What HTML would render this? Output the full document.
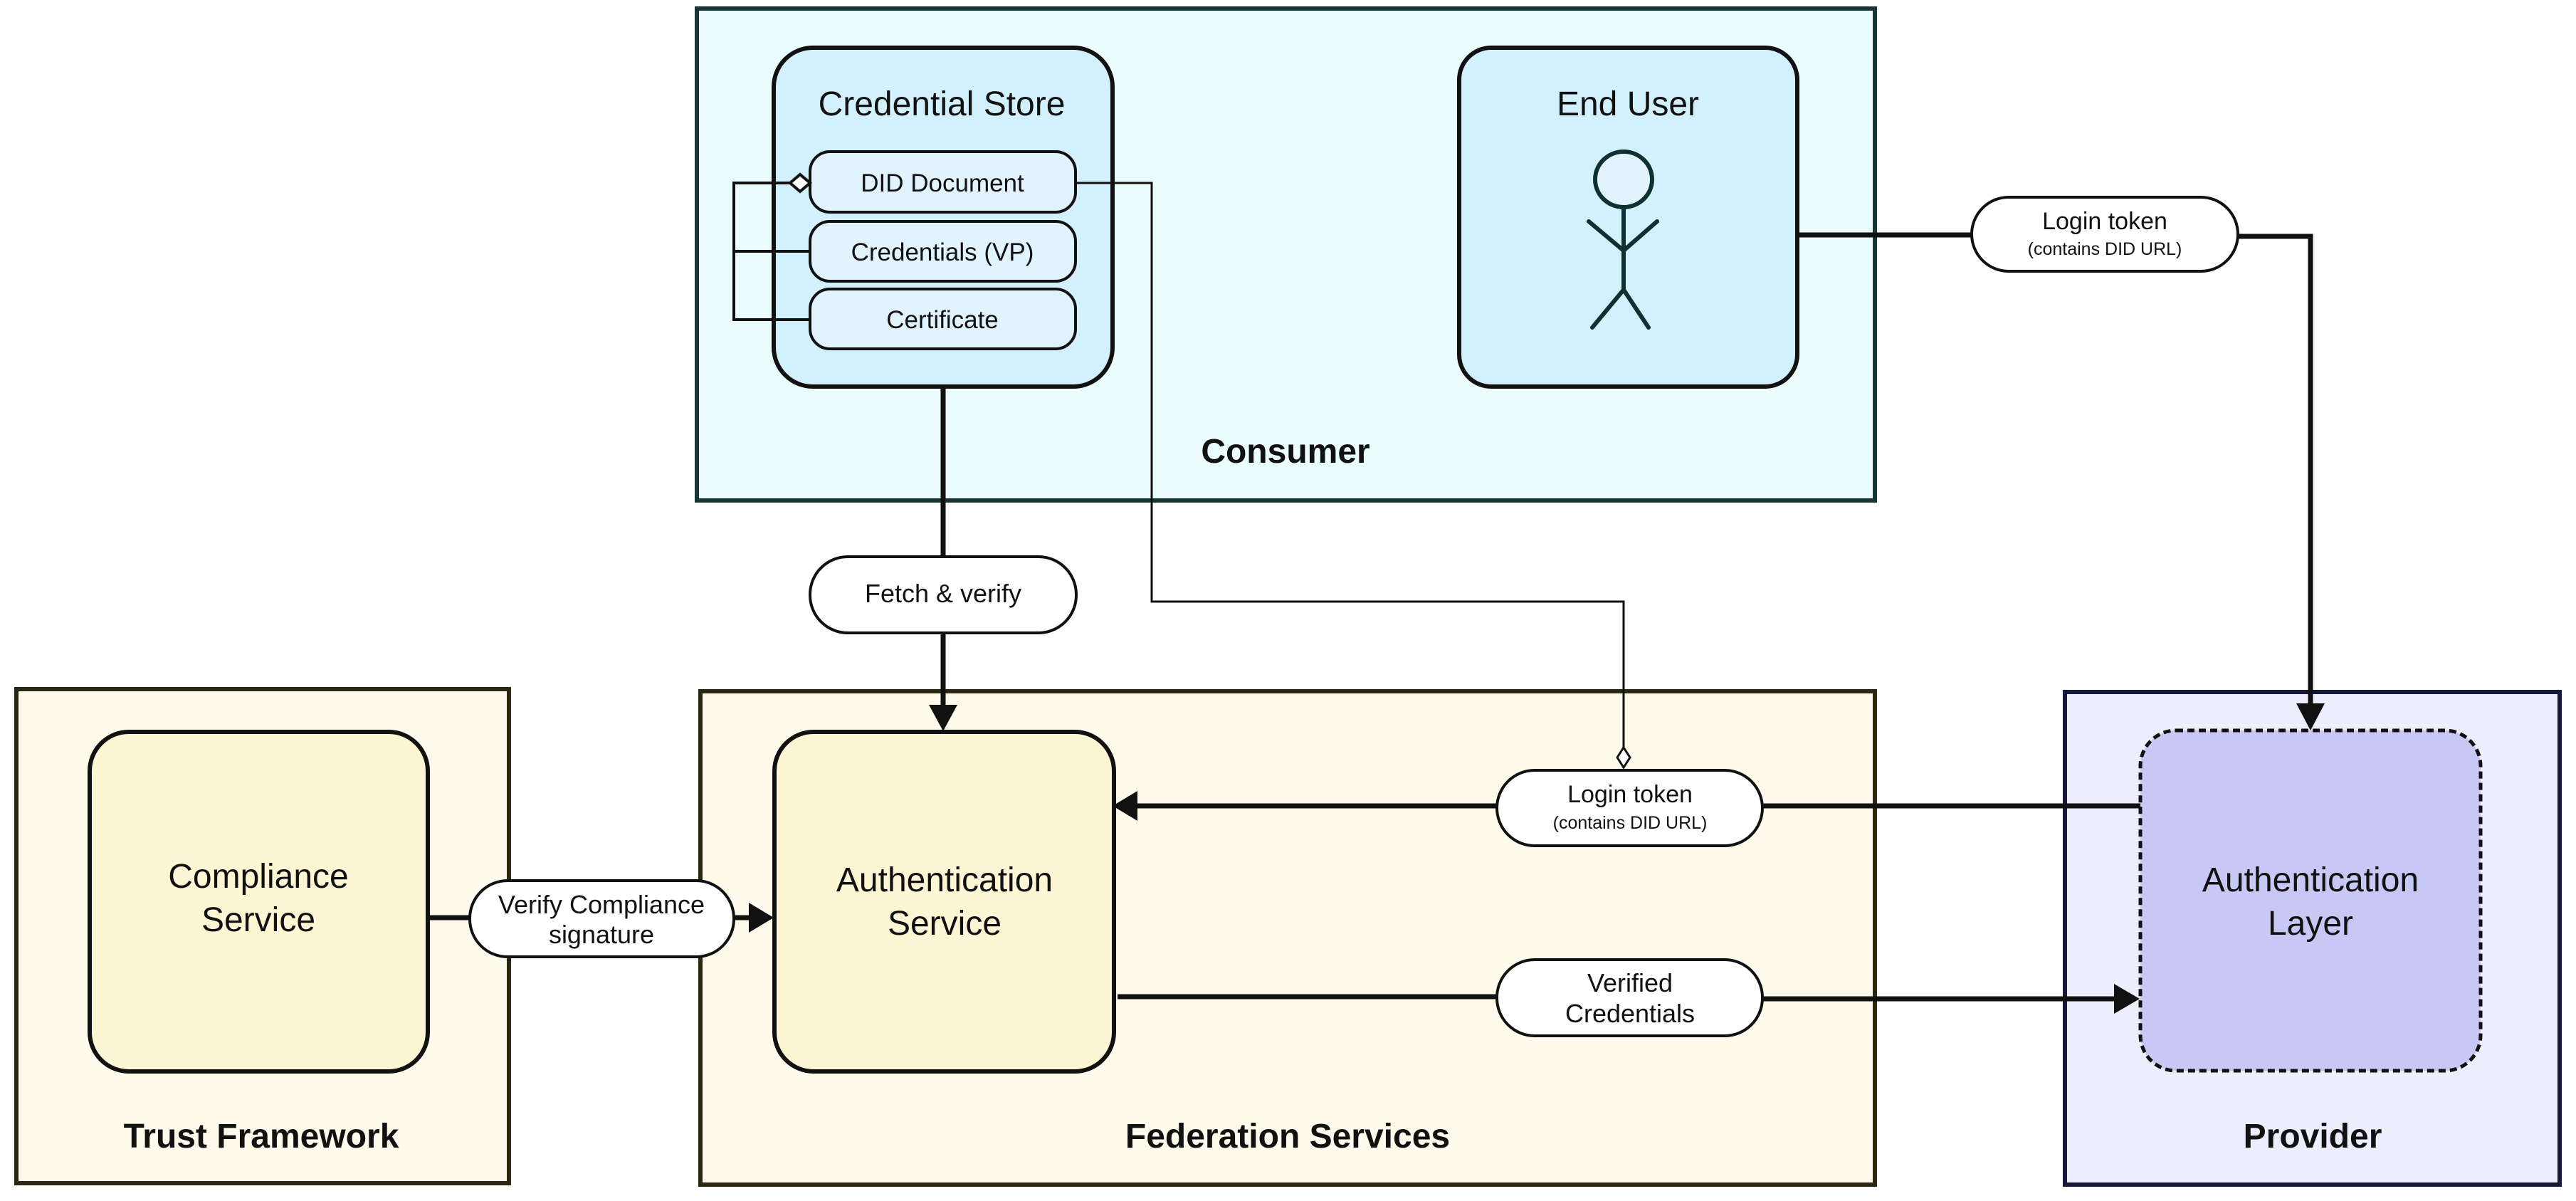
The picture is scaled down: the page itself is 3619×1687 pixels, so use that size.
<!DOCTYPE html>
<html><head><meta charset="utf-8"><style>
html,body{margin:0;padding:0;background:#fff;}
svg{display:block;}
text{font-family:"Liberation Sans",sans-serif;fill:#111;}
</style></head><body>
<svg width="3619" height="1687" viewBox="0 0 3619 1687" xmlns="http://www.w3.org/2000/svg">
<defs>
<marker id="ah" markerWidth="12" markerHeight="12" refX="10" refY="6" orient="auto" markerUnits="userSpaceOnUse" viewBox="0 0 12 12">
</marker>
</defs>
<!-- Group containers -->
<rect x="979" y="12" width="1655" height="691" fill="#ebfcfd" stroke="#173535" stroke-width="6"/>
<rect x="23" y="968" width="692" height="694" fill="#fefaec" stroke="#2a2810" stroke-width="6"/>
<rect x="984" y="971" width="1650" height="693" fill="#fefaec" stroke="#2a2810" stroke-width="6"/>
<rect x="2901" y="972" width="695" height="692" fill="#eceefd" stroke="#15183a" stroke-width="6"/>

<text x="1806" y="650" font-size="48" font-weight="bold" text-anchor="middle">Consumer</text>
<text x="367" y="1612" font-size="48" font-weight="bold" text-anchor="middle">Trust Framework</text>
<text x="1809" y="1612" font-size="48" font-weight="bold" text-anchor="middle">Federation Services</text>
<text x="3249" y="1612" font-size="48" font-weight="bold" text-anchor="middle">Provider</text>

<!-- Credential Store -->
<rect x="1087" y="67" width="476" height="476" rx="55" fill="#d2f0fd" stroke="#111" stroke-width="6"/>
<text x="1323" y="162" font-size="48" text-anchor="middle">Credential Store</text>
<rect x="1138" y="213" width="373" height="85" rx="28" fill="#e1f4fd" stroke="#111" stroke-width="4"/>
<rect x="1138" y="311" width="373" height="84" rx="28" fill="#e1f4fd" stroke="#111" stroke-width="4"/>
<rect x="1138" y="406" width="373" height="84" rx="28" fill="#e1f4fd" stroke="#111" stroke-width="4"/>
<text x="1324" y="269" font-size="35" text-anchor="middle">DID Document</text>
<text x="1324" y="366" font-size="35" text-anchor="middle">Credentials (VP)</text>
<text x="1324" y="461" font-size="35" text-anchor="middle">Certificate</text>
<!-- aggregation bracket -->
<polyline points="1110,257 1031,257 1031,449 1138,449" fill="none" stroke="#111" stroke-width="4"/>
<line x1="1031" y1="353" x2="1138" y2="353" stroke="#111" stroke-width="4"/>
<polygon points="1110,257 1124,245 1138,257 1124,269" fill="#fff" stroke="#111" stroke-width="4"/>

<!-- End User -->
<rect x="2050" y="67" width="475" height="476" rx="45" fill="#d2f0fd" stroke="#111" stroke-width="6"/>
<text x="2287" y="162" font-size="48" text-anchor="middle">End User</text>
<g stroke="#0d3030" stroke-width="6" fill="none" stroke-linecap="round">
<ellipse cx="2281" cy="252" rx="40" ry="39" fill="#e1f4fd"/>
<line x1="2281" y1="291" x2="2281" y2="407"/>
<polyline points="2232,311 2281,352 2328,311"/>
<polyline points="2237,460 2281,407 2316,460"/>
</g>

<!-- Compliance Service -->
<rect x="126" y="1028" width="475" height="477" rx="55" fill="#fdf6d4" stroke="#111" stroke-width="6"/>
<text x="363" y="1247" font-size="48" text-anchor="middle">Compliance</text>
<text x="363" y="1308" font-size="48" text-anchor="middle">Service</text>

<!-- Authentication Service -->
<rect x="1088" y="1028" width="477" height="477" rx="55" fill="#fdf6d4" stroke="#111" stroke-width="6"/>
<text x="1327" y="1252" font-size="48" text-anchor="middle">Authentication</text>
<text x="1327" y="1313" font-size="48" text-anchor="middle">Service</text>

<!-- Authentication Layer -->
<rect x="3007" y="1026" width="478" height="478" rx="50" fill="#c8c8f5" stroke="#111" stroke-width="5" stroke-dasharray="10,6"/>
<text x="3246" y="1252" font-size="48" text-anchor="middle">Authentication</text>
<text x="3246" y="1313" font-size="48" text-anchor="middle">Layer</text>

<!-- Connectors -->
<!-- cred store to auth service -->
<line x1="1325" y1="543" x2="1325" y2="782" stroke="#111" stroke-width="7"/>
<line x1="1325" y1="889" x2="1325" y2="995" stroke="#111" stroke-width="7"/>
<polygon points="1305,990 1345,990 1325,1027" fill="#111"/>
<!-- DID line -->
<polyline points="1511,257 1618,257 1618,845 2281,845 2281,1050" fill="none" stroke="#111" stroke-width="3"/>
<polygon points="2281,1050 2290,1064 2281,1078 2272,1064" fill="#fff" stroke="#111" stroke-width="3"/>
<!-- end user to auth layer -->
<line x1="2525" y1="330" x2="2770" y2="330" stroke="#111" stroke-width="7"/>
<polyline points="3144,332 3246,332 3246,992" fill="none" stroke="#111" stroke-width="7"/>
<polygon points="3226,988 3266,988 3246,1026" fill="#111"/>
<!-- auth layer to auth service (login) -->
<line x1="3007" y1="1132" x2="2476" y2="1132" stroke="#111" stroke-width="7"/>
<line x1="2103" y1="1132" x2="1595" y2="1132" stroke="#111" stroke-width="7"/>
<polygon points="1598,1111 1598,1153 1563,1132" fill="#111"/>
<!-- verified credentials -->
<line x1="1570" y1="1400" x2="2103" y2="1400" stroke="#111" stroke-width="7"/>
<line x1="2476" y1="1403" x2="2975" y2="1403" stroke="#111" stroke-width="7"/>
<polygon points="2970,1382 2970,1424 3006,1403" fill="#111"/>
<!-- compliance -->
<line x1="601" y1="1289" x2="660" y2="1289" stroke="#111" stroke-width="7"/>
<line x1="1031" y1="1289" x2="1055" y2="1289" stroke="#111" stroke-width="7"/>
<polygon points="1052,1268 1052,1310 1087,1289" fill="#111"/>

<!-- Pills -->
<rect x="1138" y="782" width="374" height="107" rx="53" fill="#fff" stroke="#111" stroke-width="4"/>
<text x="1325" y="846" font-size="36" text-anchor="middle">Fetch &amp; verify</text>

<rect x="2770" y="277" width="374" height="104" rx="52" fill="#fff" stroke="#111" stroke-width="4"/>
<text x="2957" y="322" font-size="34" text-anchor="middle">Login token</text>
<text x="2957" y="358" font-size="25" text-anchor="middle">(contains DID URL)</text>

<rect x="2103" y="1082" width="373" height="106" rx="53" fill="#fff" stroke="#111" stroke-width="4"/>
<text x="2290" y="1127" font-size="34" text-anchor="middle">Login token</text>
<text x="2290" y="1164" font-size="25" text-anchor="middle">(contains DID URL)</text>

<rect x="2103" y="1348" width="373" height="107" rx="53" fill="#fff" stroke="#111" stroke-width="4"/>
<text x="2290" y="1393" font-size="36" text-anchor="middle">Verified</text>
<text x="2290" y="1436" font-size="36" text-anchor="middle">Credentials</text>

<rect x="660" y="1237" width="371" height="107" rx="53" fill="#fff" stroke="#111" stroke-width="4"/>
<text x="845" y="1283" font-size="36" text-anchor="middle">Verify Compliance</text>
<text x="845" y="1325" font-size="36" text-anchor="middle">signature</text>
</svg>
</body></html>
